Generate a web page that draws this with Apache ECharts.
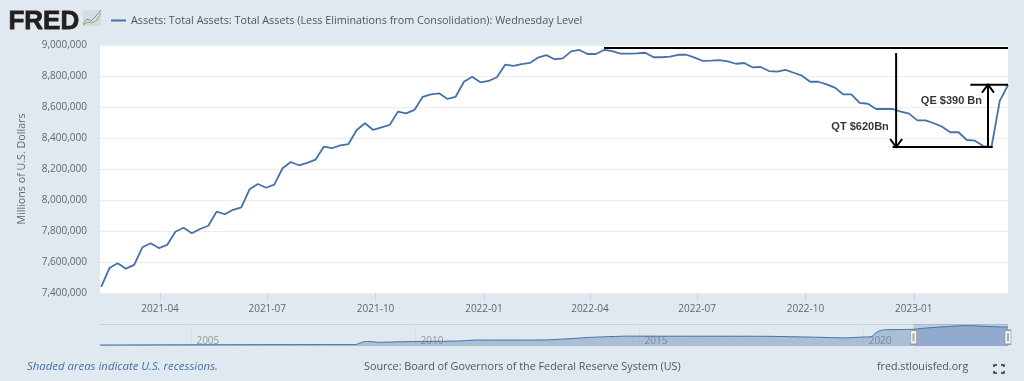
<!DOCTYPE html>
<html lang="en">
<head>
    <meta charset="UTF-8">
    <title>Total Assets</title>
    <script src="https://cdn.jsdelivr.net/npm/echarts@6/dist/echarts.min.js"></script>
    <style>
        html, body { margin: 0; padding: 0; background: #E1E9F0; }
    </style>
</head>
<body>
    <div id="main" style="width: 1024px; height: 381px;"></div>
    <script>
        const seriesName = 'Assets: Total Assets: Total Assets (Less Eliminations from Consolidation): Wednesday Level';
        const firstWeek = '2021-02-10'; // weekly, every Wednesday
        // millions of dollars
        const totalAssets = [
            7439000, 7561000, 7592000, 7557000, 7581000, 7695000, 7721000, 7690000, 7710000, 7795000,
            7821000, 7785000, 7813000, 7834000, 7925000, 7908000, 7937000, 7953000, 8069000, 8103000,
            8079000, 8099000, 8205000, 8245000, 8224000, 8239000, 8260000, 8344000, 8334000, 8353000,
            8361000, 8452000, 8495000, 8452000, 8469000, 8484000, 8570000, 8559000, 8581000, 8666000,
            8682000, 8688000, 8652000, 8666000, 8763000, 8795000, 8759000, 8768000, 8792000, 8873000,
            8865000, 8877000, 8884000, 8919000, 8935000, 8908000, 8914000, 8959000, 8968000, 8942000,
            8942000, 8968000, 8961000, 8944000, 8944000, 8946000, 8950000, 8921000, 8921000, 8925000,
            8937000, 8937000, 8918000, 8897000, 8899000, 8903000, 8895000, 8879000, 8884000, 8856000,
            8858000, 8832000, 8828000, 8839000, 8821000, 8802000, 8763000, 8763000, 8746000, 8725000,
            8682000, 8682000, 8626000, 8621000, 8587000, 8587000, 8587000, 8570000, 8557000, 8514000,
            8514000, 8495000, 8473000, 8437000, 8437000, 8387000, 8383000, 8348000, 8342000, 8639000,
            8742000
        ];
        const monthTicks = ['2021-04-01', '2021-07-01', '2021-10-01', '2022-01-01', '2022-04-01', '2022-07-01', '2022-10-01', '2023-01-01'];
        const yearTicks = ['2005-01-01', '2010-01-01', '2015-01-01', '2020-01-01'];

        // navigator, long history
        const navDates = ['2002-12-18', '2005-01-05', '2007-12-05', '2008-09-03', '2008-10-01', '2008-11-05', '2008-12-17', '2009-03-04', '2009-12-02', '2010-12-01', '2011-06-01', '2012-06-06', '2012-12-05', '2013-06-05', '2013-12-04', '2014-10-01', '2015-12-02', '2017-10-04', '2018-12-05', '2019-08-07', '2020-01-01', '2020-03-04', '2020-03-25', '2020-04-29', '2020-06-10', '2020-12-02', '2021-02-10', '2021-06-02', '2022-01-05', '2022-04-13', '2022-12-07', '2023-03-08', '2023-03-22'];
        const navValues = [720000, 820000, 890000, 905000, 1500000, 2100000, 2250000, 1900000, 2200000, 2400000, 2850000, 2850000, 2900000, 3400000, 4000000, 4500000, 4480000, 4450000, 4050000, 3760000, 4150000, 4240000, 5250000, 6600000, 7170000, 7360000, 7439000, 8000000, 8760000, 8968000, 8550000, 8342000, 8742000];

        // hand drawn notes: from date, from value, to date, to value, arrow at the "to" end
        const noteLines = [
            ['2022-04-13', 8980000, '2023-03-22', 8980000, 0],
            ['2022-12-17', 8948000, '2022-12-17', 8342000, 1],
            ['2022-12-14', 8342000, '2023-03-09', 8342000, 0],
            ['2023-03-05', 8342000, '2023-03-05', 8744000, 1],
            ['2023-02-18', 8744000, '2023-03-22', 8744000, 0]
        ];
        const noteTexts = [
            ['2022-10-23', 8471000, 'QT $620Bn'],
            ['2023-01-07', 8639000, 'QE $390 Bn']
        ];

        const DAY = 86400000;
        const t0 = Date.parse(firstWeek);
        const assetData = totalAssets.map(function (v, i) {
            return [t0 + i * 7 * DAY, v];
        });
        const noteLineData = noteLines.map(function (n) {
            return [Date.parse(n[0]), n[1], Date.parse(n[2]), n[3], n[4]];
        });
        const toTime = function (d) { return Date.parse(d); };

        const font = '"Open Sans", sans-serif';
        const blue = '#4572A7';

        var myChart = echarts.init(document.getElementById('main'));
        const option = {
            animation: false,
            backgroundColor: '#E1E9F0',
            legend: {
                data: [seriesName],
                left: 105,
                top: 10,
                itemWidth: 15,
                itemHeight: 2,
                itemGap: 5,
                selectedMode: false,
                textStyle: { color: '#555', fontFamily: font, fontSize: 10.8 }
            },
            grid: [
                { left: 100, top: 45, width: 908, height: 248, show: true, backgroundColor: '#fff', borderWidth: 0 },
                { left: 100, top: 324, width: 908, height: 22 }
            ],
            xAxis: [
                {
                    type: 'time',
                    gridIndex: 0,
                    min: '2021-02-09',
                    max: '2023-03-22',
                    axisLine: { show: false },
                    axisTick: { show: true, length: 8, lineStyle: { color: '#CCD6EB' }, customValues: monthTicks.map(toTime) },
                    splitLine: { show: false },
                    axisLabel: {
                        customValues: monthTicks.map(toTime),
                        formatter: '{yyyy}-{MM}',
                        color: '#666',
                        fontFamily: font,
                        fontSize: 10,
                        margin: 11,
                        hideOverlap: false
                    }
                },
                {
                    type: 'time',
                    gridIndex: 1,
                    min: '2002-12-18',
                    max: '2023-03-22',
                    axisLine: { show: false },
                    axisTick: { show: false, customValues: yearTicks.map(toTime) },
                    splitLine: { show: true, lineStyle: { color: '#D8E0E8' } },
                    axisLabel: {
                        customValues: yearTicks.map(toTime),
                        formatter: '{yyyy}',
                        inside: true,
                        align: 'left',
                        margin: 0,
                        padding: [0, 0, 0, 5],
                        color: '#999',
                        fontFamily: font,
                        fontSize: 10
                    }
                }
            ],
            yAxis: [
                {
                    type: 'value',
                    gridIndex: 0,
                    min: 7400000,
                    max: 9000000,
                    interval: 200000,
                    name: 'Millions of U.S. Dollars',
                    nameLocation: 'middle',
                    nameGap: 73,
                    nameTextStyle: { color: '#666', fontFamily: font, fontSize: 10.7 },
                    axisLine: { show: false },
                    axisTick: { show: false },
                    splitLine: { lineStyle: { color: '#EDEDED' } },
                    axisLabel: {
                        color: '#666',
                        fontFamily: font,
                        fontSize: 10,
                        margin: 13,
                        formatter: function (v) { return v.toLocaleString('en-US'); }
                    }
                },
                {
                    type: 'value',
                    gridIndex: 1,
                    min: 300000,
                    max: 9680000,
                    show: false,
                    splitLine: { show: false }
                }
            ],
            series: [
                {
                    name: seriesName,
                    type: 'line',
                    xAxisIndex: 0,
                    yAxisIndex: 0,
                    data: assetData,
                    symbol: 'none',
                    lineStyle: { color: blue, width: 1.8 },
                    itemStyle: { color: blue }
                },
                {
                    // navigator under the chart
                    name: 'navigator',
                    type: 'line',
                    xAxisIndex: 1,
                    yAxisIndex: 1,
                    data: navDates.map(function (d, i) { return [d, navValues[i]]; }),
                    symbol: 'none',
                    silent: true,
                    smooth: 0.2,
                    lineStyle: { color: blue, width: 1 },
                    areaStyle: { color: 'rgba(69,114,167,0.5)' },
                    markArea: {
                        silent: true,
                        itemStyle: { color: 'rgba(102,133,194,0.3)' },
                        data: [[{ coord: [firstWeek, 300000] }, { coord: ['2023-03-22', 9680000] }]]
                    },
                    markPoint: {
                        silent: true,
                        symbol: 'rect',
                        label: { show: false },
                        data: [
                            { coord: [firstWeek, 4000000], symbolSize: [6, 14], itemStyle: { color: '#F2F2F2', borderColor: '#999', borderWidth: 1 } },
                            { coord: ['2023-03-22', 4000000], symbolSize: [6, 14], itemStyle: { color: '#F2F2F2', borderColor: '#999', borderWidth: 1 } },
                            { coord: [firstWeek, 4000000], symbolSize: [2, 8], itemStyle: { color: '#AAA' } },
                            { coord: ['2023-03-22', 4000000], symbolSize: [2, 8], itemStyle: { color: '#AAA' } }
                        ]
                    }
                },
                {
                    // black notes drawn over the chart
                    name: 'notes',
                    type: 'custom',
                    xAxisIndex: 0,
                    yAxisIndex: 0,
                    silent: true,
                    clip: false,
                    z: 5,
                    data: noteLineData,
                    encode: { x: [0, 2], y: [1, 3] },
                    renderItem: function (params, api) {
                        const a = api.coord([api.value(0), api.value(1)]);
                        const b = api.coord([api.value(2), api.value(3)]);
                        const style = { stroke: '#000', lineWidth: 2, fill: null };
                        const children = [{
                            type: 'line',
                            shape: { x1: a[0], y1: a[1], x2: b[0], y2: b[1] },
                            style: style
                        }];
                        if (api.value(4)) {
                            const dir = b[1] > a[1] ? -1 : 1;
                            children.push({
                                type: 'polyline',
                                shape: { points: [[b[0] - 6, b[1] + dir * 8], [b[0], b[1]], [b[0] + 6, b[1] + dir * 8]] },
                                style: style
                            });
                        }
                        return { type: 'group', children: children };
                    }
                },
                {
                    name: 'note labels',
                    type: 'scatter',
                    xAxisIndex: 0,
                    yAxisIndex: 0,
                    silent: true,
                    symbolSize: 0,
                    z: 5,
                    data: noteTexts,
                    label: {
                        show: true,
                        position: 'right',
                        distance: 0,
                        formatter: function (p) { return p.data[2]; },
                        color: '#000',
                        fontFamily: '"Liberation Sans", Arial, sans-serif',
                        fontWeight: 'bold',
                        fontSize: 11
                    }
                }
            ],
            graphic: [
                // FRED logo
                { type: 'text', left: 8, top: 8, style: { text: 'FRED', fill: '#231F20', stroke: '#231F20', lineWidth: 0.8, font: 'bold 26px "Liberation Sans", Arial, sans-serif' } },
                { type: 'rect', shape: { x: 83, y: 10, width: 18, height: 16 }, style: { fill: '#D5DCE2' } },
                { type: 'polyline', shape: { points: [[83, 24], [87, 19], [91, 21], [96, 16], [101, 10]] }, style: { stroke: '#6E97B8', lineWidth: 1, fill: null } },
                { type: 'polyline', shape: { points: [[83, 25], [88, 22], [92, 23], [97, 20], [101, 13]] }, style: { stroke: '#8DB255', lineWidth: 1, fill: null } },
                // navigator top line
                { type: 'line', shape: { x1: 100, y1: 324.5, x2: 1008, y2: 324.5 }, style: { stroke: '#CFCFCF', lineWidth: 1 } },
                // footer
                { type: 'text', left: 27, top: 361, style: { text: 'Shaded areas indicate U.S. recessions.', fill: blue, font: 'italic 11.4px ' + font } },
                { type: 'text', left: 364, top: 361, style: { text: 'Source: Board of Governors of the Federal Reserve System (US)', fill: '#555', font: '10.8px ' + font } },
                { type: 'text', left: 877, top: 361, style: { text: 'fred.stlouisfed.org', fill: '#555', font: '10.7px ' + font } },
                // fullscreen icon
                { type: 'polyline', shape: { points: [[994, 367], [994, 365], [997, 365]] }, style: { stroke: '#333', lineWidth: 1.5, fill: null } },
                { type: 'polyline', shape: { points: [[1001, 365], [1004, 365], [1004, 367]] }, style: { stroke: '#333', lineWidth: 1.5, fill: null } },
                { type: 'polyline', shape: { points: [[994, 371], [994, 373], [997, 373]] }, style: { stroke: '#333', lineWidth: 1.5, fill: null } },
                { type: 'polyline', shape: { points: [[1001, 373], [1004, 373], [1004, 371]] }, style: { stroke: '#333', lineWidth: 1.5, fill: null } }
            ]
        };
        myChart.setOption(option);
    </script>
</body>
</html>
